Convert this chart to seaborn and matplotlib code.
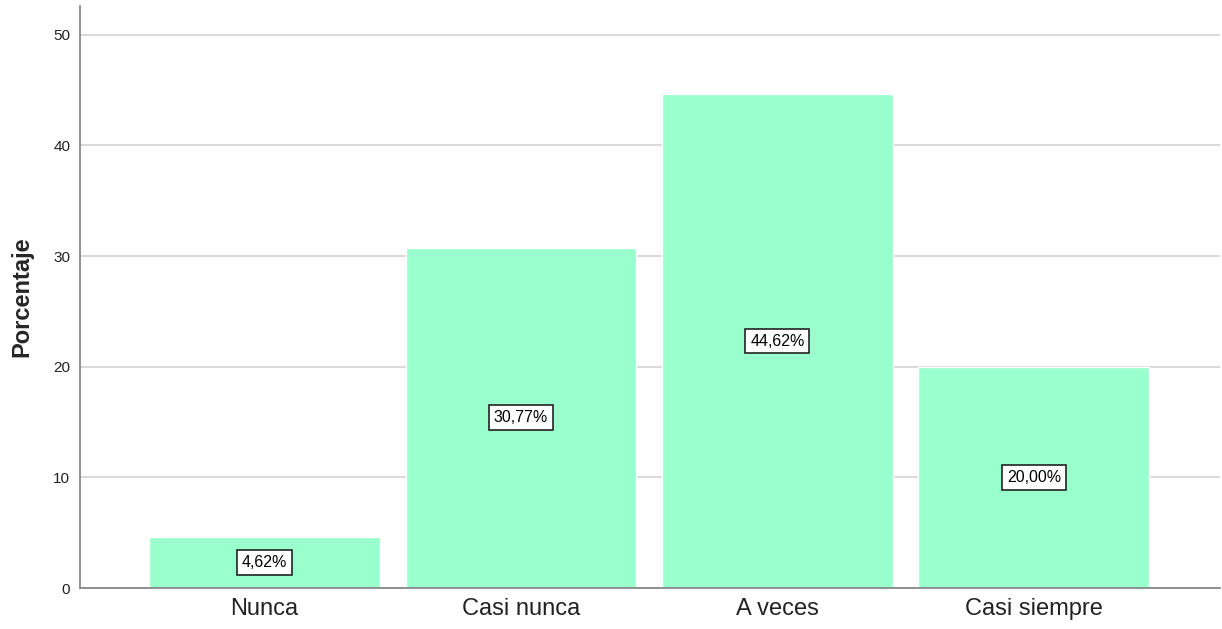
import matplotlib
matplotlib.use("Agg")
import matplotlib.pyplot as plt
import seaborn as sns

categories = ["Nunca", "Casi nunca", "A veces", "Casi siempre"]
values = [4.62, 30.77, 44.62, 20.00]
labels = ["4,62%", "30,77%", "44,62%", "20,00%"]
yticks = [0, 10, 20, 30, 40, 50]

sns.set_style("white")
plt.rcParams["font.family"] = ["Liberation Sans", "DejaVu Sans"]

fig = plt.figure(figsize=(12.22, 6.29), dpi=100)
ax = fig.add_axes([80/1222, 41/629, 1140/1222, 582/629])

sns.barplot(x=categories, y=values, color="#99FFCC", saturation=1, width=0.9,
            ax=ax, zorder=2)

ax.set_ylim(0, 52.6)
ax.set_xlim(-0.72, 3.726)
ax.set_yticks(yticks)
ax.set_yticklabels([str(t) for t in yticks], fontsize=11, color="#222222")
ax.yaxis.grid(True, color="#D3D3D3", linewidth=1.2, zorder=0)
ax.set_axisbelow(True)
ax.tick_params(axis="y", length=0, pad=7)
ax.tick_params(axis="x", length=0, pad=7, labelsize=17, labelcolor="#222222")

ax.set_ylabel("Porcentaje", fontsize=17, fontweight="bold", labelpad=14)
ax.set_xlabel("")

for s in ["top", "right"]:
    ax.spines[s].set_visible(False)
for s in ["left", "bottom"]:
    ax.spines[s].set_color("#888888")
    ax.spines[s].set_linewidth(1.3)
    ax.spines[s].set_zorder(3)

for i, (v, lab) in enumerate(zip(values, labels)):
    ax.text(i, v / 2, lab, ha="center", va="center", fontsize=11.5, color="black",
            zorder=4,
            bbox=dict(boxstyle="square,pad=0.3", facecolor="white",
                      edgecolor="#222222", linewidth=1.2))

fig.savefig("out.png", dpi=100)
